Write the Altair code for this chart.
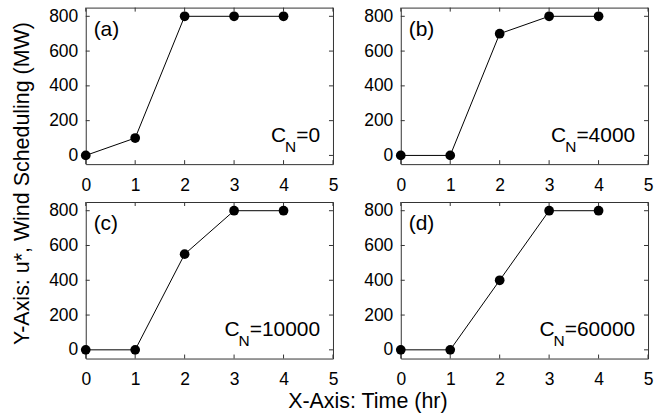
import altair as alt
import pandas as pd

# Wind scheduling u* over time for four penalty costs C_N
hours = [0, 1, 2, 3, 4]
schedule_a = [0, 100, 800, 800, 800]
schedule_b = [0, 0, 700, 800, 800]
schedule_c = [0, 0, 550, 800, 800]
schedule_d = [0, 0, 400, 800, 800]
panel_tags = ["(a)", "(b)", "(c)", "(d)"]
cost_labels = ["0", "4000", "10000", "60000"]
x_ticks = [0, 1, 2, 3, 4, 5]
y_ticks = [0, 200, 400, 600, 800]

W, H = 248, 157
FONT = "Liberation Sans"
INK = "#000000"
FRAME = "#333333"
TICK_LEN = 4
LABEL_SIZE = 17.5
TITLE_SIZE = 21.5
NOTE_SIZE = 21
SUB_SIZE = 15.5
TAG_SIZE = 21

# Arial-style advance widths (em) used to lay out the C_N annotation
ADV = {"=": 0.584, "N": 0.722, "C": 0.722}
ADV.update({d: 0.556 for d in "0123456789"})


def text_width(s, size):
    return sum(ADV[ch] for ch in s) * size


def panel(values, tag, cost, y_title=False, x_title=False):
    x_axis_kw = dict(values=x_ticks, ticks=False, domain=False, grid=False,
                     labelPadding=12, labelFontSize=LABEL_SIZE, labelFont=FONT,
                     labelColor=INK, format="d", labelFlush=False,
                     labelOverlap=False)
    y_axis_kw = dict(values=y_ticks, ticks=False, domain=False, grid=False,
                     labelPadding=8, labelFontSize=LABEL_SIZE, labelFont=FONT,
                     labelColor=INK, format="d", labelFlush=False,
                     labelOverlap=False)
    if x_title:
        x_axis_kw.update(title="X-Axis: Time (hr)", titleX=282.5, titleY=49,
                         titleAlign="center", titleBaseline="alphabetic",
                         titleFont=FONT, titleFontSize=TITLE_SIZE,
                         titleFontWeight="normal", titleColor=INK)
    else:
        x_axis_kw.update(title=None)
    if y_title:
        y_axis_kw.update(title="Y-Axis: u*, Wind Scheduling (MW)", titleX=-57,
                         titleY=176, titleAngle=270, titleAlign="center",
                         titleBaseline="alphabetic", titleFont=FONT,
                         titleFontSize=TITLE_SIZE, titleFontWeight="normal",
                         titleColor=INK)
    else:
        y_axis_kw.update(title=None)

    xe = alt.X("x:Q", scale=alt.Scale(domain=[0, 5], nice=False, zero=False),
               axis=alt.Axis(**x_axis_kw))
    ye = alt.Y("y:Q", scale=alt.Scale(domain=[-50, 850], nice=False, zero=False),
               axis=alt.Axis(**y_axis_kw))

    df = pd.DataFrame({"x": hours, "y": values})
    line = alt.Chart(df).mark_line(color=INK, strokeWidth=1).encode(x=xe, y=ye)
    pts = alt.Chart(df).mark_circle(color=INK, size=95, opacity=1).encode(x=xe, y=ye)

    xt = pd.DataFrame({"x": x_ticks})
    yt = pd.DataFrame({"y": y_ticks})
    tick_top = alt.Chart(xt).mark_rule(color=FRAME, strokeWidth=1).encode(
        x=xe, y=alt.value(0), y2=alt.value(TICK_LEN))
    tick_bottom = alt.Chart(xt).mark_rule(color=FRAME, strokeWidth=1).encode(
        x=xe, y=alt.value(H - TICK_LEN), y2=alt.value(H))
    tick_left = alt.Chart(yt).mark_rule(color=FRAME, strokeWidth=1).encode(
        y=ye, x=alt.value(0), x2=alt.value(TICK_LEN))
    tick_right = alt.Chart(yt).mark_rule(color=FRAME, strokeWidth=1).encode(
        y=ye, x=alt.value(W - TICK_LEN), x2=alt.value(W))

    tag_df = pd.DataFrame({"x": [0.16], "y": [724], "t": [tag]})
    tag_text = alt.Chart(tag_df).mark_text(
        align="left", baseline="middle", fontSize=TAG_SIZE, font=FONT, color=INK
    ).encode(x=xe, y=ye, text="t:N")

    eq = "=" + cost
    w_eq = text_width(eq, NOTE_SIZE)
    w_n = text_width("N", SUB_SIZE)
    anchor = pd.DataFrame({"x": [4.74], "y": [78], "eq": [eq], "c": ["C"], "n": ["N"]})
    eq_text = alt.Chart(anchor).mark_text(
        align="right", baseline="alphabetic", fontSize=NOTE_SIZE, font=FONT, color=INK
    ).encode(x=xe, y=ye, text="eq:N")
    n_text = alt.Chart(anchor).mark_text(
        align="right", baseline="alphabetic", fontSize=SUB_SIZE, font=FONT, color=INK,
        dx=-w_eq, dy=10
    ).encode(x=xe, y=ye, text="n:N")
    c_text = alt.Chart(anchor).mark_text(
        align="right", baseline="alphabetic", fontSize=NOTE_SIZE, font=FONT, color=INK,
        dx=-(w_eq + w_n) + 1
    ).encode(x=xe, y=ye, text="c:N")

    return alt.layer(
        tick_top, tick_bottom, tick_left, tick_right, line, pts,
        tag_text, eq_text, n_text, c_text
    ).properties(width=W, height=H)


pa = panel(schedule_a, panel_tags[0], cost_labels[0], y_title=True)
pb = panel(schedule_b, panel_tags[1], cost_labels[1])
pc = panel(schedule_c, panel_tags[2], cost_labels[2], x_title=True)
pd_ = panel(schedule_d, panel_tags[3], cost_labels[3])

chart = alt.concat(
    pa, pb, pc, pd_, columns=2, spacing={"row": 38, "column": 68}, bounds="flush"
).properties(
    padding={"left": 11, "top": 6, "right": 0, "bottom": 0},
    background="white",
).configure_view(
    stroke=FRAME, strokeWidth=1
)

chart.save("out.html", embed_options={"renderer": "svg", "actions": False})
